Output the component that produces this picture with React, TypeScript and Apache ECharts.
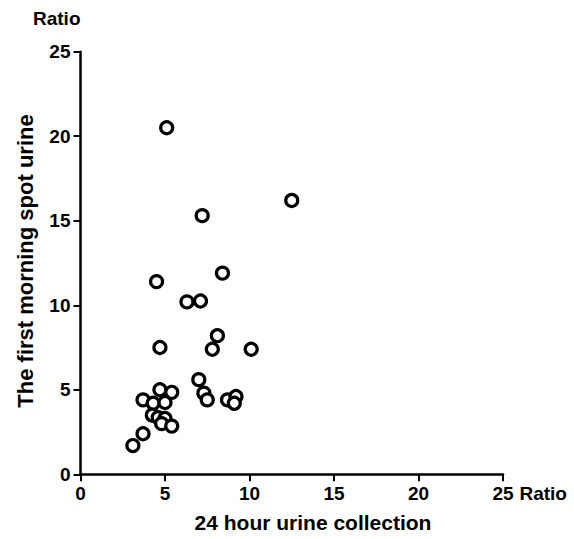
import React, { useEffect, useRef } from "react";
import * as echarts from "echarts";

const xValues24h = [5.1, 12.5, 7.2, 8.4, 4.5, 6.3, 7.1, 8.1, 7.8, 4.7, 10.1, 7.0, 7.3, 7.5, 8.7, 9.2, 9.1, 4.7, 5.4, 3.7, 4.3, 5.0, 4.25, 4.6, 5.0, 4.8, 5.4, 3.7, 3.1];
const yValuesSpot = [20.5, 16.2, 15.3, 11.9, 11.4, 10.2, 10.25, 8.2, 7.4, 7.5, 7.4, 5.6, 4.8, 4.4, 4.4, 4.6, 4.2, 5.0, 4.85, 4.4, 4.2, 4.25, 3.5, 3.35, 3.3, 3.0, 2.85, 2.4, 1.7];
const axisTicks = [0, 5, 10, 15, 20, 25];

const FONT = "'Liberation Sans', Arial, Helvetica, sans-serif";

export default function App() {
  const ref = useRef<HTMLDivElement>(null);
  useEffect(() => {
    if (!ref.current) return;
    const chart = echarts.init(ref.current, null, { renderer: "svg" });
    const data = xValues24h.map((x, i) => [x, yValuesSpot[i]]);
    const axisCommon = {
      type: "value" as const,
      min: axisTicks[0],
      max: axisTicks[axisTicks.length - 1],
      interval: 5,
      splitLine: { show: false },
      axisLine: { show: true, lineStyle: { color: "#000", width: 2.5 } },
      axisTick: { show: true, inside: false, length: 7, lineStyle: { color: "#000", width: 2 } },
      axisLabel: { color: "#000", fontSize: 19, fontWeight: "bold", fontFamily: FONT, margin: 10 },
    };
    chart.setOption({
      animation: false,
      backgroundColor: "#fff",
      grid: { left: 80.5, right: 71, top: 51.7, bottom: 64.7, containLabel: false },
      xAxis: {
        ...axisCommon,
        name: "Ratio",
        nameLocation: "end",
        nameGap: 15,
        nameTextStyle: {
          color: "#000",
          fontSize: 19,
          fontWeight: "bold",
          fontFamily: FONT,
          align: "left",
          verticalAlign: "top",
          padding: [10, 0, 0, 0],
        },
      },
      yAxis: {
        ...axisCommon,
        name: "Ratio",
        nameLocation: "end",
        nameGap: 24,
        nameTextStyle: {
          color: "#000",
          fontSize: 19,
          fontWeight: "bold",
          fontFamily: FONT,
          align: "right",
          verticalAlign: "bottom",
        },
      },
      graphic: [
        {
          type: "text",
          x: 313,
          y: 522,
          style: {
            text: "24 hour urine collection",
            fill: "#000",
            font: `bold 21px ${FONT}`,
            textAlign: "center",
            textVerticalAlign: "middle",
          },
        },
        {
          type: "text",
          x: 25,
          y: 261,
          rotation: Math.PI / 2,
          style: {
            text: "The first morning spot urine",
            fill: "#000",
            font: `bold 22px ${FONT}`,
            textAlign: "center",
            textVerticalAlign: "middle",
          },
        },
      ],
      series: [
        {
          type: "scatter",
          data,
          symbol: "circle",
          symbolSize: 12,
          itemStyle: { color: "#fff", borderColor: "#000", borderWidth: 3.2, opacity: 1 },
        },
      ],
    });
    return () => chart.dispose();
  }, []);
  return (
    <div
      ref={ref}
      style={{ position: "fixed", left: 0, top: 0, width: 574, height: 539, background: "#fff" }}
    />
  );
}
